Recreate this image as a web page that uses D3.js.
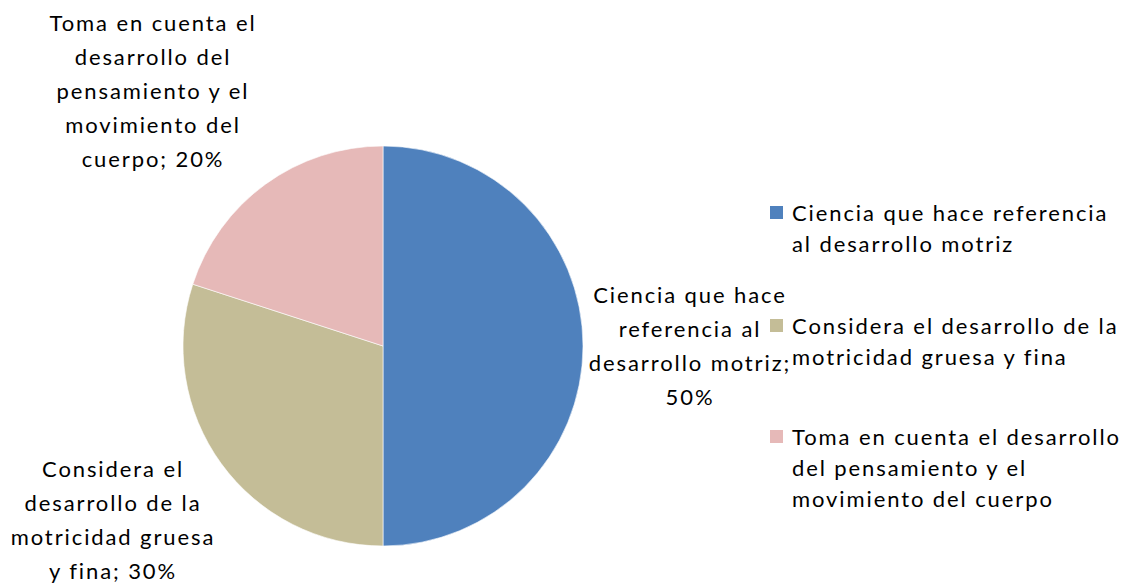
<!DOCTYPE html>
<html>
<head>
<meta charset="utf-8">
<script src="https://cdn.jsdelivr.net/npm/d3@7"></script>
<style>
  body { margin: 0; background: #fff; }
  text { font-family: Lato, "Open Sans", sans-serif; font-size: 22px; fill: #000; letter-spacing: 1.9px; }
</style>
</head>
<body>
<div class="chart"></div>
<script>
// data
var categories = [
  "Ciencia que hace referencia al desarrollo motriz",
  "Considera el desarrollo de la motricidad gruesa y fina",
  "Toma en cuenta el desarrollo del pensamiento y el movimiento del cuerpo"
];
var values = [50, 30, 20];
var colors = ["#4F81BD", "#C4BD97", "#E6B9B8"];

// wrapped text for data labels and legend
var labelLines = [
  ["Ciencia que hace", "referencia al", "desarrollo motriz;", "50%"],
  ["Considera el", "desarrollo de la", "motricidad gruesa", "y fina; 30%"],
  ["Toma en cuenta el", "desarrollo del", "pensamiento y el", "movimiento del", "cuerpo; 20%"]
];
var legendLines = [
  ["Ciencia que hace referencia", "al desarrollo motriz"],
  ["Considera el desarrollo de la", "motricidad gruesa y fina"],
  ["Toma en cuenta el desarrollo", "del pensamiento y el", "movimiento del cuerpo"]
];

var width = 1129, height = 585;
var cx = 383, cy = 346, radius = 200;

var svg = d3.select(".chart").append("svg")
    .attr("width", width)
    .attr("height", height);

var pie = d3.pie().sort(null).value(function(d) { return d; });
var arc = d3.arc().innerRadius(0).outerRadius(radius);

var g = svg.append("g")
    .attr("transform", "translate(" + cx + "," + cy + ")");

var arcs = pie(values);

g.selectAll(".slice")
    .data(arcs)
    .enter().append("path")
    .attr("class", "slice")
    .attr("d", arc)
    .attr("fill", function(d, i) { return colors[i]; })
    .attr("stroke", "#fff")
    .attr("stroke-width", 0.6);

// data label centres (relative to pie centre), one per slice
var labelPos = [[307, 0], [-270, 174], [-230, -255]];
var lineH = 34;

arcs.forEach(function(d, i) {
  var lines = labelLines[i];
  var t = g.append("text")
      .attr("text-anchor", "middle")
      .attr("x", labelPos[i][0])
      .attr("y", labelPos[i][1] - (lines.length - 1) * lineH / 2)
      .attr("dy", "0.35em");
  lines.forEach(function(l, j) {
    t.append("tspan")
      .attr("x", labelPos[i][0])
      .attr("dy", j === 0 ? "0.35em" : lineH)
      .text(l);
  });
});

// legend
var legendX = 770, legendTop = [213, 326, 437], legendLineH = 31;
var legend = svg.append("g");
categories.forEach(function(c, i) {
  legend.append("rect")
    .attr("x", legendX)
    .attr("y", legendTop[i] - 7)
    .attr("width", 13)
    .attr("height", 13)
    .attr("fill", colors[i]);
  var t = legend.append("text").attr("y", legendTop[i]);
  legendLines[i].forEach(function(l, j) {
    t.append("tspan")
      .attr("x", legendX + 22)
      .attr("dy", j === 0 ? "0.35em" : legendLineH)
      .text(l);
  });
});
</script>
</body>
</html>
